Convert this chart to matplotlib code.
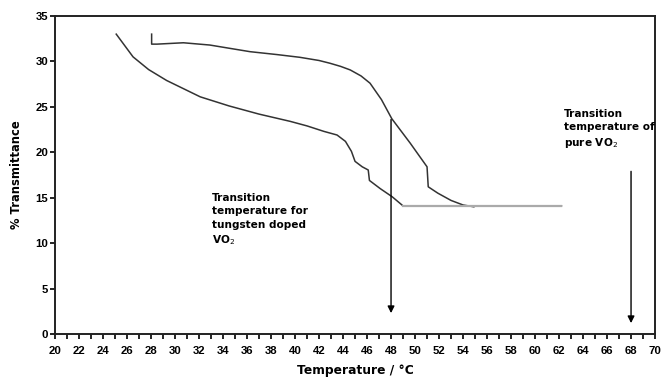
import numpy as np
import matplotlib.pyplot as plt
from matplotlib.ticker import MultipleLocator

plt.rcParams['font.family'] = ['Liberation Sans', 'DejaVu Sans']

# heating run (lower curve)
heat_t = [25.1, 26.5, 27.8, 29.3, 30.7, 32.1, 34.5, 37.0, 39.6, 41.0, 42.4, 43.5,
          44.2, 44.7, 45.0, 45.6, 46.1, 46.2, 47.1, 48.1, 49.0, 52.0, 55.0, 58.0, 62.2]
heat_T = [33.0, 30.5, 29.1, 27.9, 27.0, 26.1, 25.1, 24.2, 23.4, 22.9, 22.3, 21.9,
          21.2, 20.1, 19.0, 18.4, 18.05, 16.9, 16.0, 15.1, 14.1, 14.1, 14.1, 14.1, 14.1]

# cooling run (upper curve)
cool_t = [28.05, 28.05, 28.5, 30.7, 32.9, 34.5, 36.25, 38.5, 40.4, 42.0, 42.9, 43.8,
          44.6, 45.5, 46.25, 47.2, 48.06, 49.6, 51.0, 51.1, 51.9, 53.0, 54.0, 54.9]
cool_T = [33.0, 31.9, 31.9, 32.05, 31.8, 31.45, 31.07, 30.75, 30.45, 30.1, 29.8, 29.45,
          29.06, 28.4, 27.6, 25.8, 23.7, 21.0, 18.4, 16.2, 15.5, 14.7, 14.2, 14.0]

# transition temperature markers: (x, arrow top, arrow tip)
doped_arrow = (48, 23.6, 2.3)
pure_arrow = (68, 17.9, 1.2)

note_font = dict(family='DejaVu Sans', fontsize=7.6, fontweight='bold')

fig = plt.figure(figsize=(6.63, 3.80), dpi=100)
ax = fig.add_axes([0.083, 0.121, 0.905, 0.837])

ax.plot(heat_t, heat_T, color='#333333', lw=1.1)
ax.plot(cool_t, cool_T, color='#333333', lw=1.1)
ax.plot([49.0, 62.2], [14.1, 14.1], color='#aaaaaa', lw=1.6)

for x, top, tip in (doped_arrow, pure_arrow):
    ax.annotate('', xy=(x, tip), xytext=(x, top),
                arrowprops=dict(arrowstyle='-|>', color='black', lw=1.0,
                                mutation_scale=10, shrinkA=0, shrinkB=0))

ax.text(33.1, 15.5, 'Transition\ntemperature for\ntungsten doped\nVO$_2$',
        va='top', ha='left', linespacing=1.4, **note_font)
ax.text(62.4, 24.8, 'Transition\ntemperature of\npure VO$_2$',
        va='top', ha='left', linespacing=1.4, **note_font)

ax.set_xlim(20, 70)
ax.set_ylim(0, 35)
ax.xaxis.set_major_locator(MultipleLocator(2))
ax.xaxis.set_minor_locator(MultipleLocator(1))
ax.yaxis.set_major_locator(MultipleLocator(5))
ax.tick_params(which='both', direction='out', length=3.5, width=1.2, labelsize=8.2)
ax.tick_params(axis='x', pad=5)
ax.tick_params(axis='y', pad=1.5)
for lab in ax.get_xticklabels() + ax.get_yticklabels():
    lab.set_fontweight('bold')
for s in ax.spines.values():
    s.set_linewidth(1.4)
    s.set_color('#222222')

ax.set_xlabel('Temperature / \u00b0C', family='DejaVu Sans', fontsize=8.8,
              fontweight='bold', labelpad=6)
ax.set_ylabel('% Transmittance', family='DejaVu Sans', fontsize=8.3,
              fontweight='bold', labelpad=9)

fig.savefig('out.png', dpi=100)
